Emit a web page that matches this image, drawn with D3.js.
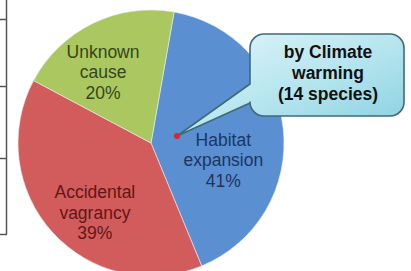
<!DOCTYPE html>
<html>
<head>
    <script src="https://d3js.org/d3.v7.min.js"></script>
    <style>
        body { margin: 0; background: #fff; }
        svg { display: block; font-family: "Liberation Sans", Arial, sans-serif; }
    </style>
</head>
<body>
    <div id="chart"></div>
    <script>
        // slice data, in drawing order (clockwise)
        const causes = ["Habitat expansion", "Accidental vagrancy", "Unknown cause"];
        const shares = [41, 39, 20];
        const labelLines = [["Habitat", "expansion", "41%"], ["Accidental", "vagrancy", "39%"], ["Unknown", "cause", "20%"]];
        const calloutLines = ["by Climate", "warming", "(14 species)"];

        const width = 411, height = 271;
        const cx = 151, cy = 143, radius = 133;
        const colors = ["#5a8fd2", "#d25c5c", "#abc760"];
        const textColors = ["#1d3560", "#5e1717", "#35461b"];
        // small nudges from the arc centroid to where the labels sit
        const nudge = [[-7, 32], [3, 22], [-13, 7]];

        const svg = d3.select("#chart").append("svg")
            .attr("width", width)
            .attr("height", height);

        // bits of the table that was cut off on the left
        const tbl = svg.append("g").attr("stroke", "#555").attr("stroke-width", 1.5);
        tbl.append("line").attr("x1", 6.5).attr("y1", 0).attr("x2", 6.5).attr("y2", 234.5);
        [19.5, 86.5, 158.5, 234.5].forEach(y => {
            tbl.append("line").attr("x1", 0).attr("y1", y).attr("x2", 7).attr("y2", y);
        });

        const data = causes.map((c, i) => ({ cause: c, value: shares[i], lines: labelLines[i] }));

        const pie = d3.pie()
            .value(d => d.value)
            .sort(null)
            .startAngle(10 * Math.PI / 180)
            .endAngle(370 * Math.PI / 180);

        const arc = d3.arc().innerRadius(0).outerRadius(radius);
        const labelArc = d3.arc().innerRadius(radius * 0.6).outerRadius(radius * 0.6);

        const g = svg.append("g").attr("transform", `translate(${cx},${cy})`);
        const arcs = pie(data);

        g.selectAll("path.slice")
            .data(arcs)
            .enter()
            .append("path")
            .attr("class", "slice")
            .attr("d", arc)
            .attr("fill", (d, i) => colors[i])
            .attr("stroke", "#e8eef4")
            .attr("stroke-width", 0.6);

        const labels = g.selectAll("text.lbl")
            .data(arcs)
            .enter()
            .append("text")
            .attr("class", "lbl")
            .attr("text-anchor", "middle")
            .attr("font-size", 17.5)
            .attr("fill", (d, i) => textColors[i])
            .attr("transform", (d, i) => {
                const c = labelArc.centroid(d);
                return `translate(${c[0] + nudge[i][0]},${c[1] + nudge[i][1]})`;
            });

        labels.selectAll("tspan")
            .data(d => d.data.lines)
            .enter()
            .append("tspan")
            .attr("x", 0)
            .attr("y", (d, j) => (j - 1) * 20.5)
            .text(d => d);

        // callout bubble
        const defs = svg.append("defs");
        const grad = defs.append("linearGradient")
            .attr("id", "bubble")
            .attr("x1", "0%").attr("y1", "0%")
            .attr("x2", "100%").attr("y2", "100%");
        grad.append("stop").attr("offset", "0%").attr("stop-color", "#e4f6f9");
        grad.append("stop").attr("offset", "55%").attr("stop-color", "#b3e4ee");
        grad.append("stop").attr("offset", "100%").attr("stop-color", "#86d0df");

        const bx0 = 250, by0 = 34, bx1 = 404, by1 = 116, br = 14;
        const tip = [177, 136];
        const p = d3.path();
        p.moveTo(bx0 + br, by0);
        p.lineTo(bx1 - br, by0);
        p.arcTo(bx1, by0, bx1, by0 + br, br);
        p.lineTo(bx1, by1 - br);
        p.arcTo(bx1, by1, bx1 - br, by1, br);
        p.lineTo(bx0 + br, by1);
        p.arcTo(bx0, by1, bx0, by1 - br, br);
        p.lineTo(bx0, 103);
        p.lineTo(tip[0], tip[1]);
        p.lineTo(bx0, 84);
        p.lineTo(bx0, by0 + br);
        p.arcTo(bx0, by0, bx0 + br, by0, br);
        p.closePath();

        svg.append("path")
            .attr("d", p.toString())
            .attr("fill", "url(#bubble)")
            .attr("stroke", "#3d6b78")
            .attr("stroke-width", 1.6)
            .attr("stroke-linejoin", "round");

        svg.append("circle")
            .attr("cx", tip[0])
            .attr("cy", tip[1])
            .attr("r", 3)
            .attr("fill", "#e3232b");

        svg.append("text")
            .attr("text-anchor", "middle")
            .attr("font-size", 17.5)
            .attr("font-weight", "bold")
            .attr("fill", "#111")
            .selectAll("tspan")
            .data(calloutLines)
            .enter()
            .append("tspan")
            .attr("x", (bx0 + bx1) / 2 + 1)
            .attr("y", (d, j) => 58 + j * 21)
            .text(d => d);
    </script>
</body>
</html>
